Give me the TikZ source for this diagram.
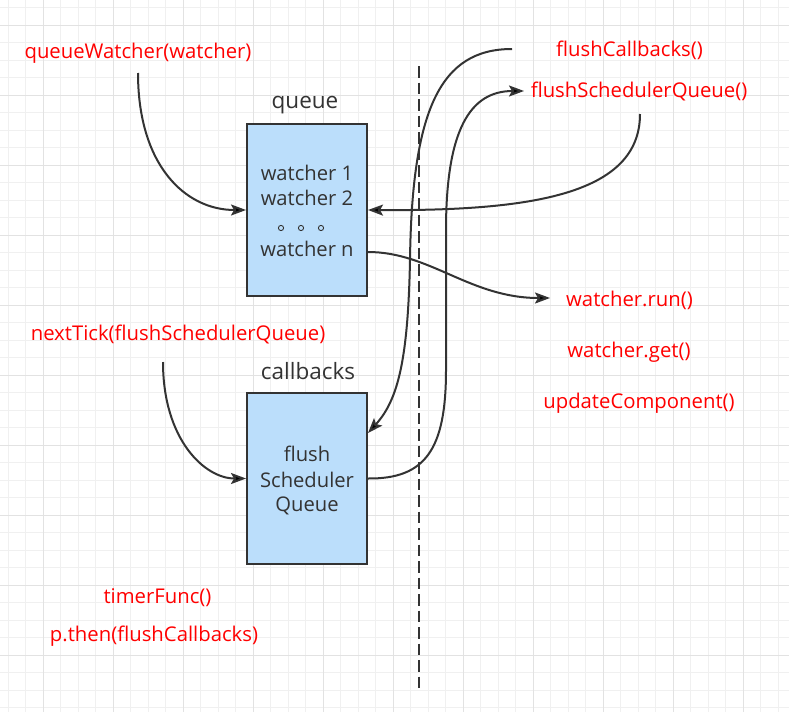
\documentclass[tikz,border=0pt]{standalone}
\usepackage{fontspec}
\setmainfont{Open Sans}
\usetikzlibrary{arrows.meta}
\definecolor{boxfill}{HTML}{BBDEFB}
\definecolor{ink}{HTML}{333333}
\definecolor{minorgrid}{HTML}{F0F0F0}
\definecolor{majorgrid}{HTML}{E2E2E2}
\begin{document}
\begin{tikzpicture}[x=1pt,y=-1pt,
  boxnode/.style={draw=ink,line width=2pt,fill=boxfill,minimum width=120pt,minimum height=171pt,inner sep=0pt},
  inktext/.style={text=ink,font=\fontsize{20.2}{24}\selectfont,inner sep=0pt,anchor=base},
  lbltext/.style={text=ink,font=\fontsize{22.5}{26}\selectfont,inner sep=0pt,anchor=base},
  redtext/.style={text=red,font=\fontsize{20.3}{24}\selectfont,inner sep=0pt,anchor=base},
  conn/.style={draw=ink,line width=2pt,-{Stealth[length=15pt,width=11pt,inset=3pt]}},
  mline/.style={draw=minorgrid,line width=1pt},
  Mline/.style={draw=majorgrid,line width=1pt}]
\fill[white] (0,0) rectangle (789,712);
\useasboundingbox (0,0) rectangle (789,712);
% grid
\foreach \i in {0,...,45} {\draw[mline] ({8.3+17.5*\i},0) -- ({8.3+17.5*\i},712);}
\foreach \i in {0,...,41} {\draw[mline] (0,{7.5+17.5*\i}) -- (789,{7.5+17.5*\i});}
\foreach \i in {0,...,11} {\draw[Mline] ({43.3+70*\i},0) -- ({43.3+70*\i},712);}
\foreach \i in {0,...,10} {\draw[Mline] (0,{25+70*\i}) -- (789,{25+70*\i});}
% dashed separator
\draw[ink,line width=2pt,dash pattern=on 11.5pt off 5pt] (419,66) -- (419,688);
% boxes
\node[boxnode,minimum height=172pt] (queue) at (307,210) {};
\node[boxnode] (cb) at (307,478.5) {};
\node[lbltext] (queuelbl) at (305,108) {queue};
\node[lbltext] (cblbl) at (308,379) {callbacks};
\node[inktext] (q1) at (307,180) {watcher 1};
\node[inktext] (q2) at (307,205) {watcher 2};
\node[inktext,anchor=center] (qd) at (301,228) {\tikz[x=1pt,y=-1pt]{\foreach \k in {0,20,40}{\draw[ink,line width=0.9pt] (\k,0) circle (2.6pt);}}};
\node[inktext] (qn) at (307,256) {watcher n};
\node[inktext] (f1) at (307,461) {flush};
\node[inktext] (f2) at (307,487) {Scheduler};
\node[inktext] (f3) at (307,511) {Queue};
% red labels
\node[redtext] (qw) at (138,58) {queueWatcher(watcher)};
\node[redtext] (fc) at (629.5,56) {flushCallbacks()};
\node[redtext] (fsq) at (639,97) {flushSchedulerQueue()};
\node[redtext] (wr) at (629.5,306) {watcher.run()};
\node[redtext] (wg) at (629,357) {watcher.get()};
\node[redtext] (uc) at (639,408) {updateComponent()};
\node[redtext] (nt) at (178,340) {nextTick(flushSchedulerQueue)};
\node[redtext] (tf) at (157.5,603) {timerFunc()};
\node[redtext] (pt) at (154,641) {p.then(flushCallbacks)};
% connectors
\coordinate (qwstart) at (138,73);
\coordinate (ntstart) at (163,362);
\coordinate (fsqstart) at (640,114);
\coordinate (fcstart) at (512,49);
\coordinate (wrend) at (550,298);
\coordinate (fsqend) at (524,91);
\draw[conn] (qwstart) .. controls (138,165) and (185,210) .. (queue.west);
\draw[conn] (ntstart) .. controls (163,440) and (205,478.5) .. (cb.west);
\draw[conn] (fsqstart) .. controls (640,195) and (530,211) .. (queue.east);
\draw[conn] ([shift={(0,42)}]queue.east) .. controls (430,252) and (470,298) .. (wrend);
\draw[conn] (fcstart) .. controls (440,49) and (412,110) .. (410,260) .. controls (408,360) and (398,400) .. ([shift={(0,-45.5)}]cb.east);
\draw[conn] (cb.east) .. controls (425,479) and (446,450) .. (446,370) -- (446,230) .. controls (446,130) and (470,91) .. (fsqend);
\end{tikzpicture}
\end{document}
